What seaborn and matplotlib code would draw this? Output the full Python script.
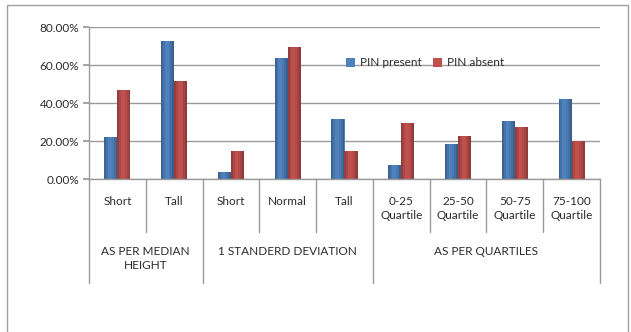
import matplotlib
matplotlib.use("Agg")
import matplotlib.pyplot as plt
import matplotlib.transforms as mtransforms
from matplotlib.patches import Rectangle
import seaborn as sns
import pandas as pd

categories = ["Short", "Tall", "Short", "Normal", "Tall",
              "0-25\nQuartile", "25-50\nQuartile", "50-75\nQuartile", "75-100\nQuartile"]
pin_present = [0.22, 0.726, 0.037, 0.637, 0.316, 0.074, 0.184, 0.305, 0.42]
pin_absent = [0.47, 0.516, 0.147, 0.695, 0.147, 0.295, 0.226, 0.274, 0.20]
groups = ["AS PER MEDIAN\nHEIGHT", "1 STANDERD DEVIATION", "AS PER QUARTILES"]
group_sizes = [2, 3, 4]
series = ["PIN present", "PIN absent"]
yticks = [0.0, 0.2, 0.4, 0.6, 0.8]

sns.set_theme(style="white")
plt.rcParams["font.family"] = ["Lato", "DejaVu Sans"]

W, H = 631, 332
TXT = "#2b2b2b"
fig = plt.figure(figsize=(W / 100, H / 100), dpi=100)
ax = fig.add_axes([89 / W, (H - 179) / H, 511 / W, 152 / H])

keys = [f"{i}" for i in range(len(categories))]
df = pd.DataFrame({
    "key": keys * 2,
    "value": pin_present + pin_absent,
    "series": [series[0]] * len(keys) + [series[1]] * len(keys),
})
sns.barplot(data=df, x="key", y="value", hue="series", order=keys,
            palette=["#4F81BD", "#C0504D"], width=0.46, ax=ax,
            edgecolor="none", saturation=1, legend=True)

# soft cylinder shading (darker towards the edges)
shade = [0.22, 0.10, 0.0, 0.0, 0.06, 0.14, 0.26]
for p in list(ax.patches):
    x0, w, h = p.get_x(), p.get_width(), p.get_height()
    if h <= 0:
        continue
    sw = w / len(shade)
    for k, a in enumerate(shade):
        if a > 0:
            ax.add_patch(Rectangle((x0 + k * sw, 0), sw, h, color="black",
                                   alpha=a, lw=0, zorder=p.get_zorder() + 0.1))

ax.set_ylim(0, 0.8)
ax.set_xlim(-0.5, len(categories) - 0.5)
ax.set_yticks(yticks)
ax.set_yticklabels([f"{v * 100:.2f}%" for v in yticks], fontsize=8.5, color=TXT)
ax.yaxis.grid(True, color="#9a9a9a", lw=1)
ax.set_axisbelow(True)
ax.set_xlabel("")
ax.set_ylabel("")
ax.set_xticks(range(len(categories)))
ax.set_xticklabels(categories, fontsize=8.5, color=TXT, linespacing=1.35)
ax.tick_params(axis="x", length=0, pad=12)
ax.tick_params(axis="y", length=4, color="#9a9a9a", direction="out", pad=3, left=True)
for s in ["top", "right"]:
    ax.spines[s].set_visible(False)
for s in ["left", "bottom"]:
    ax.spines[s].set_color("#9a9a9a")
    ax.spines[s].set_linewidth(1)

# category separators
trans = mtransforms.blended_transform_factory(ax.transData, ax.transAxes)
row_bottom = -(232 - 179) / 152
grp_bottom = -(283 - 179) / 152
pos = -0.5
group_edges = [pos]
for n in group_sizes:
    pos += n
    group_edges.append(pos)
for i in range(len(categories) + 1):
    xe = i - 0.5
    yb = grp_bottom if xe in group_edges else row_bottom
    ax.plot([xe, xe], [0, yb], transform=trans, color="#9a9a9a", lw=1, clip_on=False)

# group labels
start = -0.5
for g, n in zip(groups, group_sizes):
    cx = start + n / 2
    ax.text(cx, -(246 - 179) / 152, g, transform=trans, ha="center", va="top",
            fontsize=8.5, color=TXT, linespacing=1.35)
    start += n

leg = ax.legend(loc="center", bbox_to_anchor=((425 - 89) / 511, (179 - 63) / 152),
                ncol=2, frameon=False, fontsize=8.5, handlelength=0.75, handleheight=0.75,
                columnspacing=1.0, handletextpad=0.4)
for t in leg.get_texts():
    t.set_color(TXT)

# outer chart border
fig.add_artist(Rectangle((7 / W, -0.05), (628 - 7) / W, (332 - 5) / H + 0.05,
                         transform=fig.transFigure, fill=False, edgecolor="#a0a0a0", lw=1))

fig.savefig("out.png", dpi=100, facecolor="white")
